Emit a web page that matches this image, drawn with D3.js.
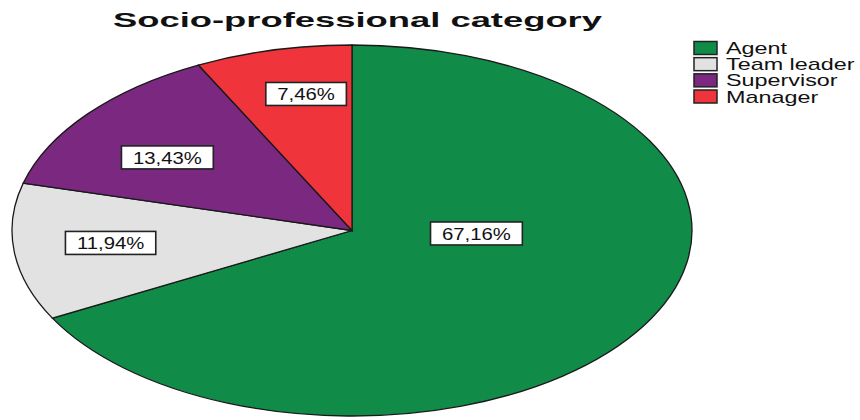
<!DOCTYPE html>
<html>
<head>
<meta charset="utf-8">
<script src="https://cdn.jsdelivr.net/npm/d3@7"></script>
<style>
  html, body { margin: 0; padding: 0; background: #fff; }
  svg { display: block; }
</style>
</head>
<body>
<svg id="chart" width="860" height="420"></svg>
<script>
// Socio-professional category breakdown (percent of respondents)
const title = "Socio-professional category";
const categories = ["Agent", "Team leader", "Supervisor", "Manager"];
const percentages = [67.16, 11.94, 13.43, 7.46];
const percentLabels = ["67,16%", "11,94%", "13,43%", "7,46%"];
const colors = ["#118b48", "#e2e2e2", "#7b2880", "#ef343c"];

const svg = d3.select("#chart");
const W = 860, H = 420;

// Elliptical pie: centre and radii
const cx = 352, cy = 230.5, rx = 340, ry = 185.5;
const R = 100;

// Normalised ellipse coordinates -> pixels
const sx = d3.scaleLinear().domain([-1, 1]).range([cx - rx, cx + rx]);
const sy = d3.scaleLinear().domain([-1, 1]).range([cy - ry, cy + ry]);

const data = categories.map((c, i) => ({ name: c, value: percentages[i], label: percentLabels[i], color: colors[i] }));

const pie = d3.pie().sort(null).value(d => d.value);
const arc = d3.arc().innerRadius(0).outerRadius(R);
const arcs = pie(data);

const pieG = svg.append("g")
  .attr("transform", `translate(${cx},${cy}) scale(${rx / R},${ry / R})`);

pieG.selectAll("path.slice")
  .data(arcs)
  .join("path")
  .attr("class", "slice")
  .attr("d", arc)
  .attr("fill", d => d.data.color)
  .attr("stroke", "#1a1a1a")
  .attr("stroke-width", 1.3)
  .attr("stroke-linejoin", "miter")
  .attr("vector-effect", "non-scaling-stroke");

// Value labels: boxed text placed inside each slice (normalised ellipse units)
const labelSpots = {
  "Agent": [0.366, 0.016],
  "Team leader": [-0.71, 0.067],
  "Supervisor": [-0.543, -0.394],
  "Manager": [-0.135, -0.736]
};
const labelFont = 16, labelStretch = 1.27, padX = 11.5, boxH = 23;

const labelG = svg.append("g").attr("font-family", "'Liberation Sans', Arial, sans-serif");
arcs.forEach(a => {
  const [nx, ny] = labelSpots[a.data.name];
  const px = sx(nx), py = sy(ny);
  const g = labelG.append("g").attr("transform", `translate(${px},${py})`);
  const rect = g.append("rect");
  const t = g.append("text")
    .attr("text-anchor", "middle")
    .attr("dominant-baseline", "central")
    .attr("font-size", labelFont)
    .attr("fill", "#111")
    .attr("transform", `scale(${labelStretch},1)`)
    .attr("y", 0.5)
    .text(a.data.label);
  const w = t.node().getComputedTextLength() * labelStretch + padX * 2;
  rect.attr("x", -w / 2).attr("y", -boxH / 2)
    .attr("width", w).attr("height", boxH)
    .attr("fill", "#fff")
    .attr("stroke", "#222")
    .attr("stroke-width", 1.6);
});

// Title
svg.append("text")
  .attr("x", 357.5)
  .attr("y", 27)
  .attr("text-anchor", "middle")
  .attr("font-family", "'Liberation Sans', Arial, sans-serif")
  .attr("font-weight", "bold")
  .attr("font-size", 21)
  .attr("fill", "#111")
  .attr("textLength", 489)
  .attr("lengthAdjust", "spacingAndGlyphs")
  .text(title);

// Legend
const legendRow = d3.scalePoint().domain(categories).range([48, 96.5]);
const legendStretch = 1.46;
const legendG = svg.append("g").attr("font-family", "'Liberation Sans', Arial, sans-serif");
const rows = legendG.selectAll("g.row")
  .data(data)
  .join("g")
  .attr("class", "row")
  .attr("transform", d => `translate(694,${legendRow(d.name)})`);

rows.append("rect")
  .attr("x", 0).attr("y", -6.5)
  .attr("width", 23).attr("height", 13)
  .attr("fill", d => d.color)
  .attr("stroke", "#222")
  .attr("stroke-width", 1.5);

rows.append("text")
  .attr("transform", `translate(32,0) scale(${legendStretch},1)`)
  .attr("dominant-baseline", "central")
  .attr("y", 0.5)
  .attr("font-size", 16)
  .attr("fill", "#111")
  .text(d => d.name);
</script>
</body>
</html>
